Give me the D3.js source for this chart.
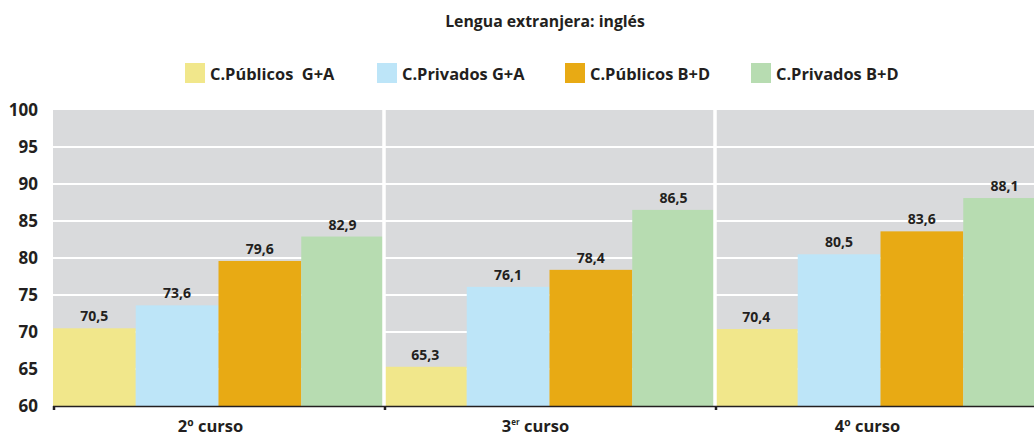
<!DOCTYPE html>
<html>
<head>
<meta charset="utf-8">
<script src="https://cdn.jsdelivr.net/npm/d3@7"></script>
<style>
  html, body { margin: 0; padding: 0; background: #ffffff; overflow: hidden; }
  svg { display: block; font-family: "Open Sans", "DejaVu Sans", sans-serif; }
</style>
</head>
<body>
<svg id="chart" width="1034" height="437"></svg>
<script>
// Data
const title = "Lengua extranjera: inglés";
const cursos = ["2º curso", "3er curso", "4º curso"];
const series = ["C.Públicos  G+A", "C.Privados G+A", "C.Públicos B+D", "C.Privados B+D"];
const colors = ["#f1e78b", "#bde5f8", "#e8aa14", "#b7dcb1"];
const publicosGA = [70.5, 65.3, 70.4];
const privadosGA = [73.6, 76.1, 80.5];
const publicosBD = [79.6, 78.4, 83.6];
const privadosBD = [82.9, 86.5, 88.1];
const yTicks = [60, 65, 70, 75, 80, 85, 90, 95, 100];

const values = [publicosGA, privadosGA, publicosBD, privadosBD];
const textColor = "#231f20";

const svg = d3.select("#chart");
const plotLeft = 53, plotRight = 1046, plotTop = 110, plotBottom = 406;

const y = d3.scaleLinear().domain([60, 100]).range([plotBottom, plotTop]);
const x0 = d3.scaleBand().domain(cursos).range([plotLeft, plotRight]).paddingInner(0).paddingOuter(0);
const x1 = d3.scaleBand().domain(series).range([0, x0.bandwidth()]).padding(0);

// Title
svg.append("text")
  .attr("x", 545).attr("y", 27)
  .attr("text-anchor", "middle")
  .attr("font-size", 15.8).attr("font-weight", "bold")
  .attr("fill", textColor)
  .text(title);

// Legend
const legendX = [185, 377, 565, 751];
const legend = svg.append("g");
series.forEach((s, i) => {
  legend.append("rect")
    .attr("x", legendX[i]).attr("y", 63)
    .attr("width", 20).attr("height", 20)
    .attr("fill", colors[i]);
  legend.append("text")
    .attr("x", legendX[i] + 25).attr("y", 80)
    .attr("font-size", 16.4).attr("font-weight", "bold")
    .attr("fill", textColor)
    .style("white-space", "pre")
    .text(s);
});

// Plot background
svg.append("rect")
  .attr("x", plotLeft).attr("y", plotTop)
  .attr("width", plotRight - plotLeft).attr("height", plotBottom - plotTop)
  .attr("fill", "#d9dadc");

// Horizontal gridlines
svg.append("g").selectAll("line")
  .data(yTicks.filter(t => t > 60 && t < 100))
  .join("line")
  .attr("x1", plotLeft).attr("x2", plotRight)
  .attr("y1", d => y(d)).attr("y2", d => y(d))
  .attr("stroke", "#ffffff").attr("stroke-width", 2);

// Bars
const groups = svg.append("g").selectAll("g")
  .data(cursos)
  .join("g")
  .attr("transform", d => `translate(${x0(d)},0)`);

groups.each(function(c, ci) {
  const g = d3.select(this);
  series.forEach((s, si) => {
    const v = values[si][ci];
    g.append("rect")
      .attr("x", x1(s)).attr("y", y(v))
      .attr("width", x1.bandwidth()).attr("height", plotBottom - y(v))
      .attr("fill", colors[si]);
    g.append("text")
      .attr("x", x1(s) + x1.bandwidth() / 2)
      .attr("y", y(v) - 7)
      .attr("text-anchor", "middle")
      .attr("font-size", 14).attr("font-weight", "bold")
      .attr("fill", textColor)
      .text(d3.format(".1f")(v).replace(".", ","));
  });
});

// Vertical separators between cursos
svg.append("g").selectAll("line")
  .data(cursos.slice(1))
  .join("line")
  .attr("x1", d => x0(d)).attr("x2", d => x0(d))
  .attr("y1", plotTop).attr("y2", plotBottom)
  .attr("stroke", "#ffffff").attr("stroke-width", 3.5);

// Y axis labels
const yAxis = d3.axisLeft(y).tickValues(yTicks).tickSize(0).tickPadding(0);
const yg = svg.append("g").attr("transform", `translate(38,0)`).call(yAxis);
yg.select(".domain").remove();
yg.selectAll("text")
  .attr("font-size", 17).attr("font-weight", "bold")
  .attr("font-family", "'Open Sans', sans-serif")
  .attr("fill", textColor);

// X axis baseline and ticks
svg.append("line")
  .attr("x1", plotLeft).attr("x2", plotRight)
  .attr("y1", plotBottom + 0.5).attr("y2", plotBottom + 0.5)
  .attr("stroke", textColor).attr("stroke-width", 1.5);
svg.append("g").selectAll("line")
  .data(cursos)
  .join("line")
  .attr("x1", d => x0(d) + 1).attr("x2", d => x0(d) + 1)
  .attr("y1", plotBottom).attr("y2", plotBottom + 4)
  .attr("stroke", textColor).attr("stroke-width", 2.5);

// Category labels (centred slightly left of each group's middle)
const catOffset = [-8, -14, -13];
const catLabels = svg.append("g");
cursos.forEach((c, i) => {
  const t = catLabels.append("text")
    .attr("x", x0(c) + x0.bandwidth() / 2 + catOffset[i])
    .attr("y", 432)
    .attr("text-anchor", "middle")
    .attr("font-size", 16.5).attr("font-weight", "bold")
    .attr("fill", textColor);
  if (c === "3er curso") {
    t.append("tspan").text("3");
    t.append("tspan").attr("font-size", 8).attr("dy", -7).text("er");
    t.append("tspan").attr("dy", 7).text(" curso");
  } else {
    t.text(c);
  }
});
</script>
</body>
</html>
